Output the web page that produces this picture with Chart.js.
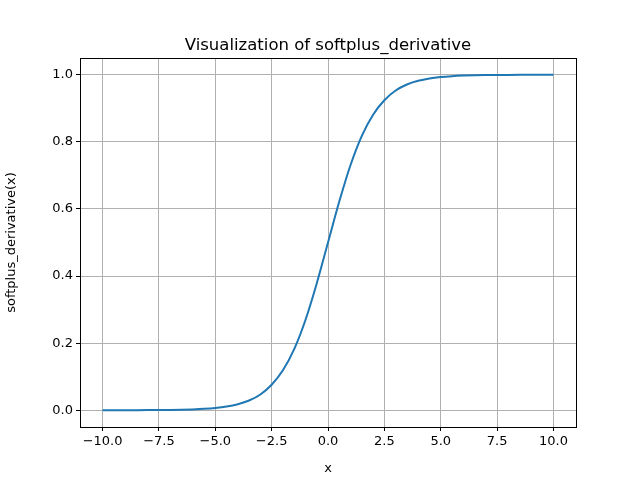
<!DOCTYPE html>
<html><head><meta charset="utf-8">
<script src="https://cdn.jsdelivr.net/npm/chart.js@4/dist/chart.umd.min.js"></script>
<style>html,body{margin:0;padding:0;background:#fff}#c{display:block}</style>
</head><body>
<div style="width:640px;height:480px"><canvas id="c" width="640" height="480"></canvas></div>
<script>
const xValues = [-10,-9.5,-9,-8.5,-8,-7.5,-7,-6.5,-6,-5.5,-5,-4.5,-4,-3.5,-3,-2.5,-2,-1.5,-1,-0.5,0,0.5,1,1.5,2,2.5,3,3.5,4,4.5,5,5.5,6,6.5,7,7.5,8,8.5,9,9.5,10];
const yValues = [0.00005,0.00007,0.00012,0.0002,0.00034,0.00055,0.0009,0.0015,0.0025,0.0041,0.0067,0.011,0.018,0.029,0.047,0.076,0.119,0.182,0.269,0.378,0.5,0.622,0.731,0.818,0.881,0.924,0.953,0.971,0.982,0.989,0.9933,0.9959,0.9975,0.9985,0.9991,0.99945,0.99966,0.9998,0.99988,0.99993,0.99995];
const xTicks = [-10,-7.5,-5,-2.5,0,2.5,5,7.5,10];
const yTicks = [0,0.2,0.4,0.6,0.8,1.0];
const titleText = "Visualization of softplus_derivative";
const xLabel = "x", yLabel = "softplus_derivative(x)";
const FONT = "'DejaVu Sans', sans-serif";
const fmt = (v,d)=>{const s=Math.abs(v).toFixed(d);return v<0?"\u2212"+s:s;};
const frame = {id:'frame',afterDraw(c){const a=c.chartArea,x=c.ctx;x.save();x.strokeStyle='#000';x.lineWidth=1;
x.strokeRect(Math.round(a.left)+0.5,Math.round(a.top)+0.5,Math.round(a.right-a.left),Math.round(a.bottom-a.top));
x.fillStyle='#000';x.font="16.5px "+FONT;x.textAlign='center';x.textBaseline='alphabetic';x.fillText(titleText,(a.left+a.right)/2,50);x.restore();}};
new Chart(document.getElementById('c'),{
type:'scatter',
data:{datasets:[{data:xValues.map((x,i)=>({x,y:yValues[i]})),showLine:true,borderColor:'#1f77b4',borderWidth:2,pointRadius:0,cubicInterpolationMode:'monotone'}]},
options:{responsive:false,animation:false,events:[],
layout:{padding:{left:0,right:64,top:58,bottom:0}},
plugins:{legend:{display:false},tooltip:{enabled:false}},
scales:{
x:{type:'linear',min:-11,max:11,
afterBuildTicks:s=>{s.ticks=xTicks.map(v=>({value:v}));},
afterFit:s=>{s.height=53;},
grid:{color:'#b0b0b0',tickColor:'#000',tickLength:4,lineWidth:1},
border:{color:'#000'},
ticks:{color:'#000',font:{family:FONT,size:13},padding:3,maxRotation:0,callback:v=>fmt(v,1)},
title:{display:true,text:xLabel,color:'#000',font:{family:FONT,size:13},padding:{top:2}}},
y:{type:'linear',min:-0.05,max:1.05,
afterBuildTicks:s=>{s.ticks=yTicks.map(v=>({value:v}));},
afterFit:s=>{s.width=80;},
grid:{color:'#b0b0b0',tickColor:'#000',tickLength:4,lineWidth:1},
border:{color:'#000'},
ticks:{color:'#000',font:{family:FONT,size:13},padding:3,callback:v=>fmt(v,1)},
title:{display:true,text:yLabel,color:'#000',font:{family:FONT,size:13},padding:{bottom:4}}}
}},
plugins:[frame]});
</script></body></html>
